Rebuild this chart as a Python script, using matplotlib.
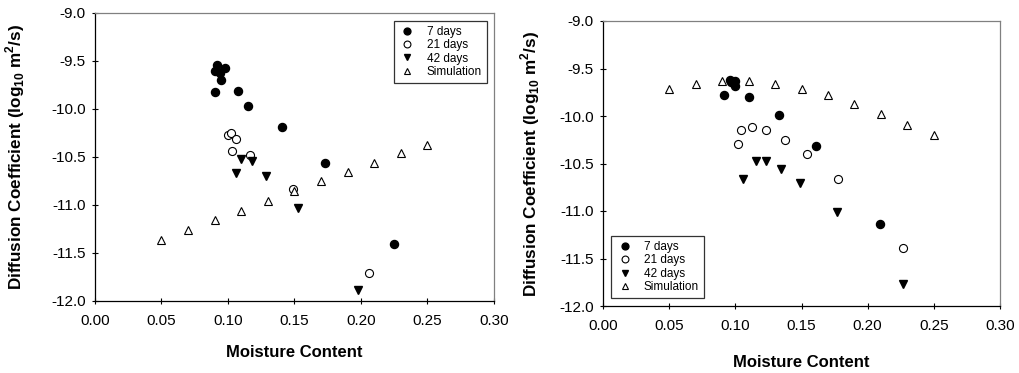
import matplotlib
matplotlib.use("Agg")
import matplotlib.pyplot as plt

plt.rcParams['font.family'] = ['Liberation Sans', 'DejaVu Sans']
plt.rcParams['mathtext.fontset'] = 'custom'
plt.rcParams['mathtext.rm'] = 'Liberation Sans'
plt.rcParams['mathtext.bf'] = 'Liberation Sans:bold'

# ---- Left panel data ----
L_7d_x = [0.0920, 0.0977, 0.0902, 0.0940, 0.0945, 0.0904, 0.1072, 0.1147, 0.1405, 0.1733, 0.2246]
L_7d_y = [-9.545, -9.573, -9.607, -9.625, -9.701, -9.820, -9.816, -9.969, -10.191, -10.566, -11.406]
L_21d_x = [0.1002, 0.1019, 0.1062, 0.1027, 0.1165, 0.1490, 0.2061]
L_21d_y = [-10.267, -10.247, -10.313, -10.441, -10.483, -10.837, -11.705]
L_42d_x = [0.1097, 0.1177, 0.1057, 0.1282, 0.1525, 0.1976]
L_42d_y = [-10.517, -10.538, -10.667, -10.694, -11.031, -11.882]
L_sim_x = [0.05, 0.07, 0.09, 0.11, 0.13, 0.15, 0.17, 0.19, 0.21, 0.23, 0.25]
L_sim_y = [-11.361, -11.260, -11.160, -11.059, -10.955, -10.854, -10.753, -10.656, -10.559, -10.462, -10.372]

# ---- Right panel data ----
R_7d_x = [0.0958, 0.0965, 0.0998, 0.0998, 0.0913, 0.1104, 0.1333, 0.1606, 0.2092]
R_7d_y = [-9.624, -9.640, -9.631, -9.687, -9.782, -9.803, -9.992, -10.321, -11.138]
R_21d_x = [0.1018, 0.1046, 0.1129, 0.1228, 0.1374, 0.1545, 0.1775, 0.2264]
R_21d_y = [-10.297, -10.146, -10.111, -10.150, -10.251, -10.402, -10.668, -11.390]
R_42d_x = [0.1059, 0.1157, 0.1235, 0.1344, 0.1487, 0.1770, 0.2264]
R_42d_y = [-10.665, -10.472, -10.472, -10.553, -10.707, -11.008, -11.773]
R_sim_x = [0.05, 0.07, 0.09, 0.11, 0.13, 0.15, 0.17, 0.19, 0.21, 0.23, 0.25]
R_sim_y = [-9.719, -9.662, -9.634, -9.634, -9.659, -9.711, -9.782, -9.876, -9.981, -10.094, -10.199]

labels = ['7 days', '21 days', '42 days', 'Simulation']
x_ticks = [0.00, 0.05, 0.10, 0.15, 0.20, 0.25, 0.30]
y_ticks = [-12.0, -11.5, -11.0, -10.5, -10.0, -9.5, -9.0]

fig = plt.figure(figsize=(10.20, 3.73), dpi=100)
axL = fig.add_axes([95/1020, 1-301/373, 399/1020, 288/373])
axR = fig.add_axes([603/1020, 1-306/373, 397/1020, 285/373])

ylabel = r'Diffusion Coefficient (log$_\mathbf{10}$ m$^\mathbf{2}$/s)'

def draw(ax, d7, d21, d42, sim, ylab_x, xlab_y):
    ms = 5.8
    ax.plot(*d7, linestyle='none', marker='o', ms=ms, mfc='black', mec='black', label=labels[0])
    ax.plot(*d21, linestyle='none', marker='o', ms=ms, mfc='white', mec='black', mew=0.8, label=labels[1])
    ax.plot(*d42, linestyle='none', marker='v', ms=ms, mfc='black', mec='black', label=labels[2])
    ax.plot(*sim, linestyle='none', marker='^', ms=ms, mfc='white', mec='black', mew=0.8, label=labels[3])
    ax.set_xlim(0, 0.30)
    ax.set_ylim(-12.0, -9.0)
    ax.set_xticks(x_ticks)
    ax.set_xticklabels([f'{v:.2f}' for v in x_ticks])
    ax.set_yticks(y_ticks)
    ax.set_yticklabels([f'{v:.1f}' for v in y_ticks])
    ax.tick_params(direction='inout', length=5, width=0.8, labelsize=11, colors='black')
    ax.tick_params(axis='x', pad=7)
    ax.tick_params(axis='y', pad=4)
    for s in ['top', 'right']:
        ax.spines[s].set_color('#808080')
    for s in ['left', 'bottom']:
        ax.spines[s].set_color('black')
    for s in ax.spines.values():
        s.set_linewidth(0.9)
    ax.set_xlabel('Moisture Content', fontsize=12, fontweight='bold')
    ax.set_ylabel(ylabel, fontsize=12.3, fontweight='bold')
    ax.yaxis.set_label_coords(ylab_x, 0.5)
    ax.xaxis.set_label_coords(0.5, xlab_y)

draw(axL, (L_7d_x, L_7d_y), (L_21d_x, L_21d_y), (L_42d_x, L_42d_y), (L_sim_x, L_sim_y),
     (27 - 95) / 399, (301 - 345) / 288)
draw(axR, (R_7d_x, R_7d_y), (R_21d_x, R_21d_y), (R_42d_x, R_42d_y), (R_sim_x, R_sim_y),
     (542 - 603) / 397, (306 - 355) / 285)

legkw = dict(fontsize=8.5, frameon=True, fancybox=False, borderaxespad=0,
             handletextpad=0.9, labelspacing=0.12, markerscale=0.85,
             handlelength=1.5, borderpad=0.4, edgecolor='#333333')
legL = axL.legend(loc='upper right', bbox_to_anchor=(0.982, 0.972), **legkw)
legR = axR.legend(loc='lower left', bbox_to_anchor=(0.02, 0.028), **legkw)
for leg in (legL, legR):
    leg.get_frame().set_linewidth(0.9)
    leg.get_frame().set_alpha(1)

fig.savefig('out.png', dpi=100)
